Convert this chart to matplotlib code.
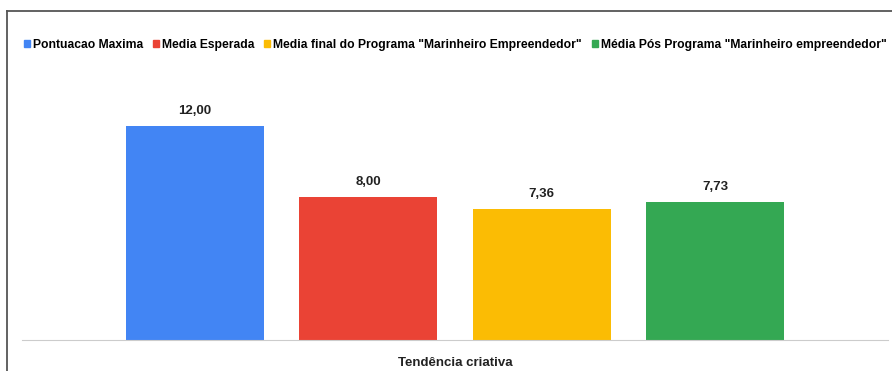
import matplotlib
matplotlib.use("Agg")
import matplotlib.pyplot as plt
from matplotlib.lines import Line2D

plt.rcParams["font.family"] = ["Liberation Sans", "DejaVu Sans"]

series = ["Pontuacao Maxima", "Media Esperada",
          'Media final do Programa "Marinheiro Empreendedor"',
          'Média Pós Programa "Marinheiro empreendedor"']
values = [12.00, 8.00, 7.36, 7.73]
category = "Tendência criativa"
colors = ["#4285F4", "#EA4335", "#FBBC04", "#34A853"]

W, H = 892, 371
fig = plt.figure(figsize=(W / 100, H / 100), dpi=100, facecolor="white")

# frame lines along the top and left edge
fig.add_artist(Line2D([7 / W, 1], [1 - 11 / H] * 2, color="#555555", lw=1.3))
fig.add_artist(Line2D([7 / W] * 2, [0, 1 - 11 / H], color="#555555", lw=1.3))

ax = fig.add_axes([22 / W, (H - 340) / H, (888 - 22) / W, 300 / H])
pos = range(len(values))
bars = ax.bar(pos, values, width=0.795, color=colors, zorder=2)
for b, v in zip(bars, values):
    ax.text(b.get_x() + b.get_width() / 2, v + 0.5, f"{v:.2f}".replace(".", ","),
            ha="center", va="bottom", fontsize=9.5, fontweight="bold", color="#222222")

ax.set_xlim(-0.997, 3.997)
ax.set_ylim(0, 300 / 17.83)
for s in ["top", "right", "left"]:
    ax.spines[s].set_visible(False)
ax.spines["bottom"].set_color("#cccccc")
ax.set_yticks([])
ax.set_xticks([1.5])
ax.set_xticklabels([category], fontsize=9.5, fontweight="bold", color="#222222")
ax.tick_params(axis="x", length=0, pad=12)

handles = [plt.Rectangle((0, 0), 1, 1, color=c) for c in colors]
fig.legend(handles, series, loc="center left", bbox_to_anchor=(24 / W, 1 - 45 / H),
           ncol=4, frameon=False, handlelength=0.5, handleheight=0.5,
           handletextpad=0.25, columnspacing=0.8, borderaxespad=0, borderpad=0,
           prop={"size": 8.7, "weight": "bold"})

fig.savefig("out.png", dpi=100, facecolor="white")
